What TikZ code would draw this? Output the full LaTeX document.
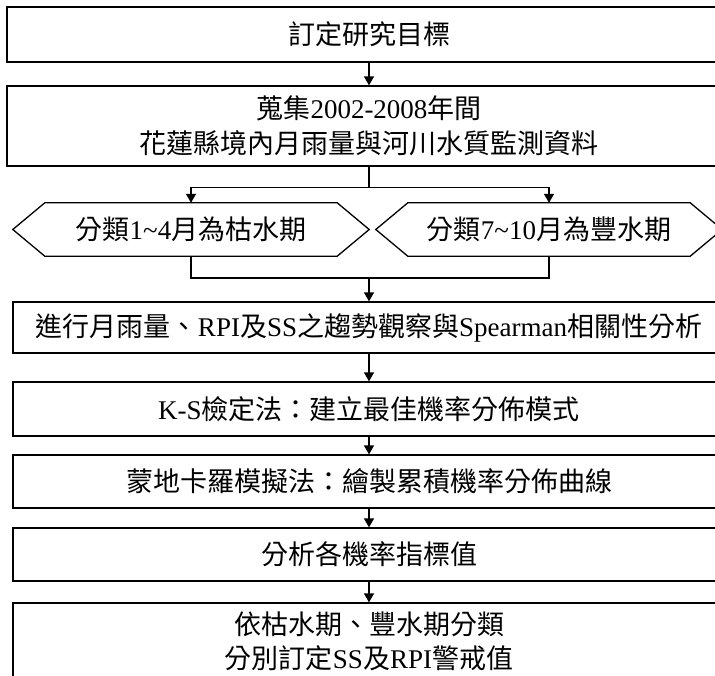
\documentclass[tikz,border=0pt]{standalone}
\usepackage{fontspec}
\setmainfont{Noto Sans CJK TC}
\newfontfamily\latfont{Liberation Serif}
\newcommand\en[1]{{\latfont #1}}
\usetikzlibrary{arrows.meta,calc}
\begin{document}
\begin{tikzpicture}[x=1pt,y=-1pt,
  txt/.style={inner sep=0pt, align=center, font=\fontsize{27pt}{35pt}\selectfont},
  box/.style={txt, draw, line width=1.3pt},
  hexnode/.style={txt, draw=none, minimum height=53pt},
  hexline/.style={line width=1.3pt, line join=miter},
  conn/.style={line width=1.3pt},
  arr/.style={conn, -{Triangle[width=10pt,length=9pt]}}]
\useasboundingbox (0,0) rectangle (715,675);
\clip (0,0) rectangle (715,675);

\node[box, minimum width=724pt, minimum height=55pt] (b1) at (369,34.5) {訂定研究目標};
\node[box, minimum width=724pt, minimum height=80pt] (b2) at (369,126) {蒐集\en{2002-2008}年間\\花蓮縣境內月雨量與河川水質監測資料};

\node[hexnode, minimum width=356pt] (h1) at (191,229.5) {分類\en{1\textasciitilde 4}月為枯水期};
\node[hexnode, minimum width=346pt] (h2) at (549,229.5) {分類\en{7\textasciitilde 10}月為豐水期};
\foreach \h in {h1,h2}{
  \draw[hexline] (\h.west) -- ($(\h.north west)+(32,0)$) -- ($(\h.north east)+(-32,0)$) -- (\h.east)
    -- ($(\h.south east)+(-32,0)$) -- ($(\h.south west)+(32,0)$) -- cycle;
}

\node[box, minimum width=712pt, minimum height=51pt] (b3) at (369,327.5) {進行月雨量、\en{RPI}及\en{SS}之趨勢觀察與\en{Spearman}相關性分析};
\node[box, minimum width=712pt, minimum height=54pt] (b4) at (369,409) {\en{K-S}檢定法：建立最佳機率分佈模式};
\node[box, minimum width=712pt, minimum height=53pt] (b5) at (369,481.5) {蒙地卡羅模擬法：繪製累積機率分佈曲線};
\node[box, minimum width=712pt, minimum height=53pt] (b6) at (369,554.5) {分析各機率指標值};
\node[box, minimum width=712pt, minimum height=76pt, font=\fontsize{27pt}{34pt}\selectfont] (b7) at (369,641) {依枯水期、豐水期分類\\分別訂定\en{SS}及\en{RPI}警戒值};

\draw[arr] (b1.south) -- (b2.north);
\coordinate (sp) at ($(b2.south)+(0,21)$);
\draw[conn] (b2.south) -- (sp);
\draw[arr] (sp) -| (h1.north);
\draw[arr] (sp) -| (h2.north);
\coordinate (mg) at (369,278);
\draw[conn] (h1.south) |- (mg);
\draw[conn] (h2.south) |- (mg);
\draw[arr] (mg) -- (b3.north);
\draw[arr] (b3.south) -- (b4.north);
\draw[arr] (b4.south) -- (b5.north);
\draw[arr] (b5.south) -- (b6.north);
\draw[arr] (b6.south) -- (b7.north);
\end{tikzpicture}
\end{document}
